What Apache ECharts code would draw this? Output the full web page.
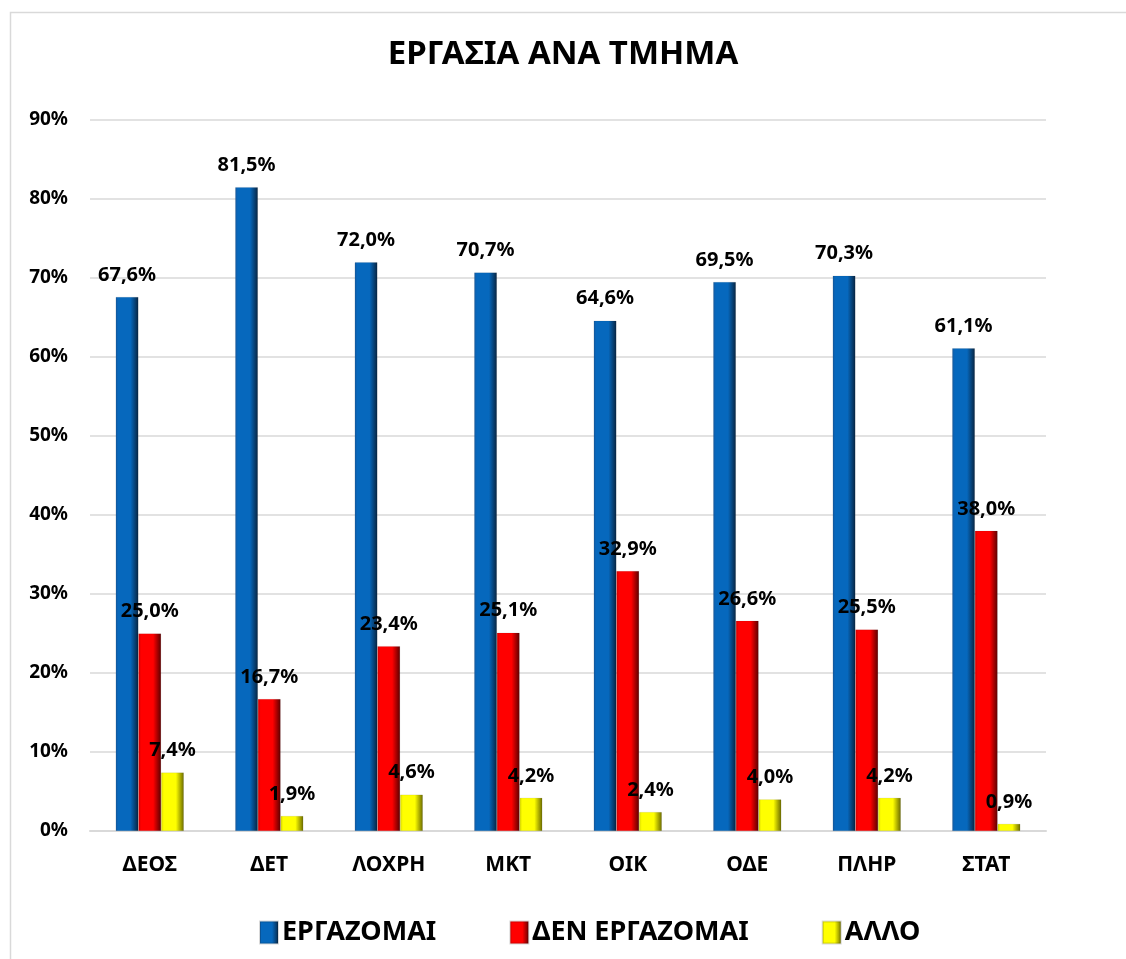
<!DOCTYPE html>
<html>
<head>
<meta charset="utf-8">
<script src="https://cdn.jsdelivr.net/npm/echarts@6/dist/echarts.min.js"></script>
<style>
  html, body { margin: 0; padding: 0; background: #fff; }
  #chart { width: 1126px; height: 959px; }
</style>
</head>
<body>
<div id="chart"></div>
<script>
const categories = ['ΔΕΟΣ', 'ΔΕΤ', 'ΛΟΧΡΗ', 'ΜΚΤ', 'ΟΙΚ', 'ΟΔΕ', 'ΠΛΗΡ', 'ΣΤΑΤ']
const seriesNames = ['ΕΡΓΑΖΟΜΑΙ', 'ΔΕΝ ΕΡΓΑΖΟΜΑΙ', 'ΑΛΛΟ']
const working = [67.6, 81.5, 72.0, 70.7, 64.6, 69.5, 70.3, 61.1]
const notWorking = [25.0, 16.7, 23.4, 25.1, 32.9, 26.6, 25.5, 38.0]
const other = [7.4, 1.9, 4.6, 4.2, 2.4, 4.0, 4.2, 0.9]

const font = '"Noto Sans", "Open Sans", sans-serif'

// bevel-ish look: light left edge, bright middle, dark right edge
function bevel(light, mid, dark) {
  return new echarts.graphic.LinearGradient(0, 0, 1, 0, [
    { offset: 0, color: light },
    { offset: 0.12, color: mid },
    { offset: 0.65, color: mid },
    { offset: 1, color: dark }
  ])
}

const colors = [
  bevel('#165aa0', '#0668bd', '#082440'),
  bevel('#d00000', '#ff0000', '#5a0000'),
  bevel('#d8d800', '#ffff00', '#6a6a00')
]

function makeSeries(i, data) {
  return {
    name: seriesNames[i],
    type: 'bar',
    data: data,
    barGap: '0%',
    barCategoryGap: '43%',
    itemStyle: { color: colors[i], borderColor: 'rgba(0,0,0,0.15)', borderWidth: 0.5 },
    label: {
      show: true,
      position: 'top',
      distance: 12,
      color: '#000',
      fontFamily: font,
      fontWeight: 'bold',
      fontSize: 20,
      formatter: p => p.value.toFixed(1).replace('.', ',') + '%'
    }
  }
}

const chart = echarts.init(document.getElementById('chart'))
chart.setOption({
  animation: false,
  graphic: [{
    type: 'rect',
    left: 8, top: 10,
    shape: { width: 1200, height: 1000 },
    style: { fill: 'none', stroke: '#d9d9d9', lineWidth: 1.5 },
    silent: true
  }],
  title: {
    text: 'ΕΡΓΑΣΙΑ ΑΝΑ ΤΜΗΜΑ',
    left: 'center',
    top: 33,
    textStyle: { fontFamily: font, fontWeight: 'bold', fontSize: 33, color: '#000' }
  },
  legend: {
    bottom: 8,
    left: 254,
    icon: 'rect',
    itemWidth: 18,
    itemHeight: 22,
    itemGap: 73,
    textStyle: { fontFamily: font, fontSize: 27, fontWeight: 'bold', color: '#000', padding: [0, 0, 0, -1] },
    data: seriesNames.map((n, i) => ({ name: n, itemStyle: { color: colors[i] } }))
  },
  grid: { left: 90, right: 80, top: 120, bottom: 128 },
  xAxis: {
    type: 'category',
    data: categories,
    axisLine: { lineStyle: { color: '#d9d9d9', width: 2 } },
    axisTick: { show: false },
    axisLabel: { color: '#000', fontFamily: font, fontWeight: 'bold', fontSize: 21, margin: 24 }
  },
  yAxis: {
    type: 'value',
    min: 0,
    max: 90,
    interval: 10,
    axisLine: { show: false },
    axisTick: { show: false },
    splitLine: { lineStyle: { color: '#d9d9d9', width: 1.5 } },
    axisLabel: { color: '#000', fontFamily: font, fontWeight: 'bold', fontSize: 19, margin: 22, formatter: '{value}%' }
  },
  series: [
    makeSeries(0, working),
    makeSeries(1, notWorking),
    makeSeries(2, other)
  ]
})
</script>
</body>
</html>
